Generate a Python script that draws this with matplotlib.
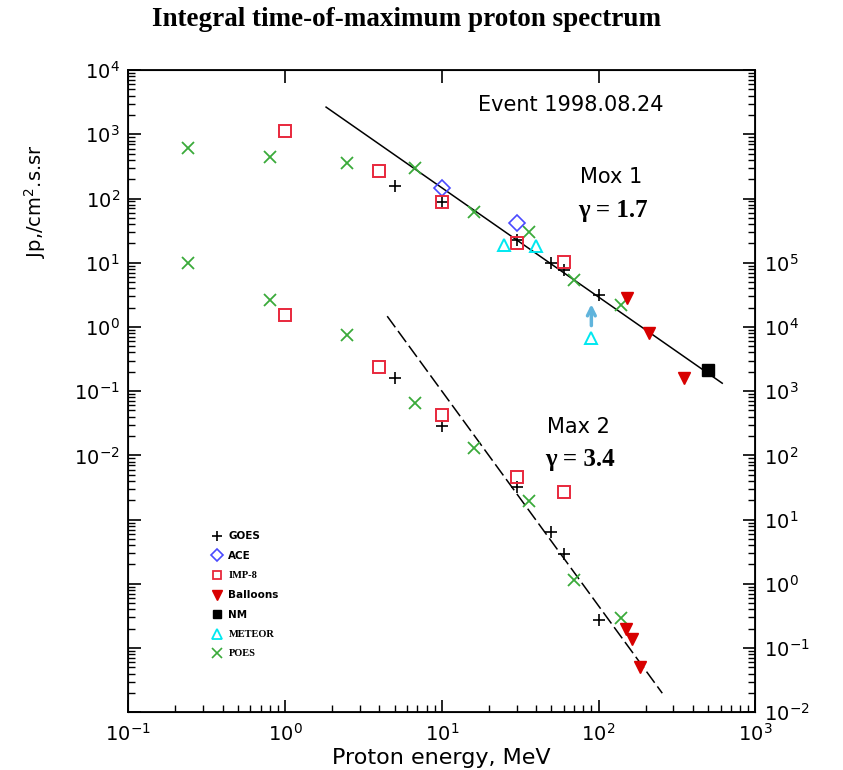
import math
import matplotlib
matplotlib.use("Agg")
import matplotlib.pyplot as plt
from matplotlib.ticker import LogLocator, FuncFormatter, NullFormatter
from matplotlib.lines import Line2D

# energies in MeV, fluxes in /cm2.s.sr
# Max 1 (left axis)
goes1_e = [5, 10, 30, 50, 60, 100]
goes1_j = [156, 88, 22.5, 9.9, 7.7, 3.1]
ace1_e = [10, 30]
ace1_j = [145, 41]
imp1_e = [1, 4, 10, 30, 60]
imp1_j = [1120, 267, 88, 20.2, 10.2]
ball1_e = [152, 211, 352]
ball1_j = [2.8, 0.80, 0.16]
nm1_e = [500]
nm1_j = [0.21]
met1_e = [25, 40, 90]
met1_j = [18.8, 18.0, 0.67]
poes1_e = [0.24, 0.8, 2.5, 6.8, 16, 36, 70, 140]
poes1_j = [610, 442, 356, 303, 61, 30, 5.4, 2.2]
fit1_e = [1.83, 615]
fit1_j = [2650, 0.133]

# Max 2 (right axis)
goes2_e = [5, 10, 30, 50, 60, 100]
goes2_j = [1590, 285, 32, 6.4, 2.9, 0.27]
imp2_e = [1, 4, 10, 30, 60]
imp2_j = [15300, 2370, 423, 45.7, 26.7]
ball2_e = [150, 164, 185]
ball2_j = [0.20, 0.14, 0.050]
poes2_e = [0.24, 0.8, 2.5, 6.8, 16, 36, 70, 140]
poes2_j = [98600, 26100, 7450, 650, 129, 19.4, 1.14, 0.29]
fit2_e = [4.49, 255]
fit2_j = [14700, 0.0198]

RED = "#e8283c"
GREEN = "#3aaa3a"
BLUE = "#4a4aff"
CYAN = "#00e8f0"
BRED = "#d80000"

fig = plt.figure(figsize=(8.43, 7.7), dpi=100)
ax = fig.add_axes([0.152, 0.075, 0.744, 0.834])
ax2 = ax.twinx()

ax.set_xscale("log")
ax.set_yscale("log")
ax2.set_yscale("log")
ax.set_xlim(0.1, 1000)
ax.set_ylim(1e-6, 1e4)
ax2.set_ylim(1e-2, 1e8)


def style(a, axis):
    a.tick_params(axis=axis, which="major", direction="in", length=9, width=1.2, labelsize=14, pad=6)
    a.tick_params(axis=axis, which="minor", direction="in", length=5, width=1)


def pow_label(lo, hi):
    def f(v, p):
        k = round(math.log10(v))
        return "$10^{%d}$" % k if lo <= k <= hi else ""
    return FuncFormatter(f)


ax.xaxis.set_major_locator(LogLocator(base=10, numticks=10))
ax.xaxis.set_minor_locator(LogLocator(base=10, subs=range(2, 10), numticks=10))
ax.xaxis.set_minor_formatter(NullFormatter())
ax.xaxis.set_major_formatter(pow_label(-1, 3))
ax.tick_params(axis="x", top=True)
style(ax, "x")
ax.tick_params(axis="x", pad=8)

for a, lo, hi in [(ax, -2, 4), (ax2, -2, 5)]:
    a.yaxis.set_major_locator(LogLocator(base=10, numticks=20))
    a.yaxis.set_minor_locator(LogLocator(base=10, subs=range(2, 10), numticks=20))
    a.yaxis.set_minor_formatter(NullFormatter())
    a.yaxis.set_major_formatter(pow_label(lo, hi))
    style(a, "y")
ax.tick_params(axis="y", right=False)

for s in ax.spines.values():
    s.set_linewidth(1.3)

ms = 9
# Max 1
ax.plot(fit1_e, fit1_j, color="black", lw=1.1, zorder=1)
ax.plot(poes1_e, poes1_j, "x", color=GREEN, ms=ms, mew=1.3, ls="none")
ax.plot(goes1_e, goes1_j, "+", color="black", ms=ms, mew=1.2, ls="none")
ax.plot(ace1_e, ace1_j, "D", mfc="none", mec=BLUE, ms=8, mew=1.2, ls="none")
ax.plot(imp1_e, imp1_j, "s", mfc="none", mec=RED, ms=ms, mew=1.4, ls="none")
ax.plot(met1_e, met1_j, "^", mfc="none", mec=CYAN, ms=ms, mew=1.4, ls="none")
ax.plot(ball1_e, ball1_j, "v", color=BRED, ms=ms, ls="none")
ax.plot(nm1_e, nm1_j, "s", color="black", ms=8, ls="none")
ax.annotate("", xy=(met1_e[2], 2.5), xytext=(met1_e[2], 0.95),
            arrowprops=dict(arrowstyle="->", color="#60b4dc", lw=2.5, mutation_scale=14))

# Max 2
ax2.plot(fit2_e, fit2_j, color="black", lw=1.1, dashes=(9, 3), zorder=1)
ax2.plot(poes2_e, poes2_j, "x", color=GREEN, ms=ms, mew=1.3, ls="none")
ax2.plot(goes2_e, goes2_j, "+", color="black", ms=ms, mew=1.2, ls="none")
ax2.plot(imp2_e, imp2_j, "s", mfc="none", mec=RED, ms=ms, mew=1.4, ls="none")
ax2.plot(ball2_e, ball2_j, "v", color=BRED, ms=ms, ls="none")

ax.text(0.705, 0.946, "Event 1998.08.24", transform=ax.transAxes, ha="center", va="center", fontsize=15)
ax.text(0.721, 0.833, "Mox 1", transform=ax.transAxes, ha="left", va="center", fontsize=15)
ax.text(0.718, 0.782, "γ = 1.7", transform=ax.transAxes, ha="left", va="center",
        fontsize=18, family="Liberation Serif", weight="bold")
ax.text(0.668, 0.444, "Max 2", transform=ax.transAxes, ha="left", va="center", fontsize=15)
ax.text(0.665, 0.393, "γ = 3.4", transform=ax.transAxes, ha="left", va="center",
        fontsize=18, family="Liberation Serif", weight="bold")

handles = [
    Line2D([], [], marker="+", color="black", ls="none", ms=7, mew=1.2),
    Line2D([], [], marker="D", mfc="none", mec=BLUE, ls="none", ms=6, mew=1.2),
    Line2D([], [], marker="s", mfc="none", mec=RED, ls="none", ms=6, mew=1.3),
    Line2D([], [], marker="v", color=BRED, ls="none", ms=7),
    Line2D([], [], marker="s", color="black", ls="none", ms=6),
    Line2D([], [], marker="^", mfc="none", mec=CYAN, ls="none", ms=7, mew=1.3),
    Line2D([], [], marker="x", color=GREEN, ls="none", ms=7, mew=1.2),
]
labels = ["GOES", "ACE", "IMP-8", "Balloons", "NM", "METEOR", "POES"]
leg = ax.legend(handles, labels, loc="upper left", bbox_to_anchor=(0.125, 0.29), frameon=False,
                fontsize=7.5, handlelength=1.0, handletextpad=0.6, labelspacing=0.95, borderpad=0)
for t in leg.get_texts():
    if t.get_text() in ("IMP-8", "METEOR", "POES"):
        t.set_family("Liberation Serif")
    t.set_weight("bold")

ax.set_xlabel("Proton energy, MeV", fontsize=16, labelpad=2)
ax.set_ylabel("Jp,/cm$^2$.s.sr", fontsize=14)
ax.yaxis.set_label_coords(-0.128, 0.796)

fig.text(0.482, 0.975, "Integral time-of-maximum proton spectrum", ha="center", va="center",
         fontsize=19.5, family="Liberation Serif", weight="bold")

fig.savefig("out.png", dpi=100)
